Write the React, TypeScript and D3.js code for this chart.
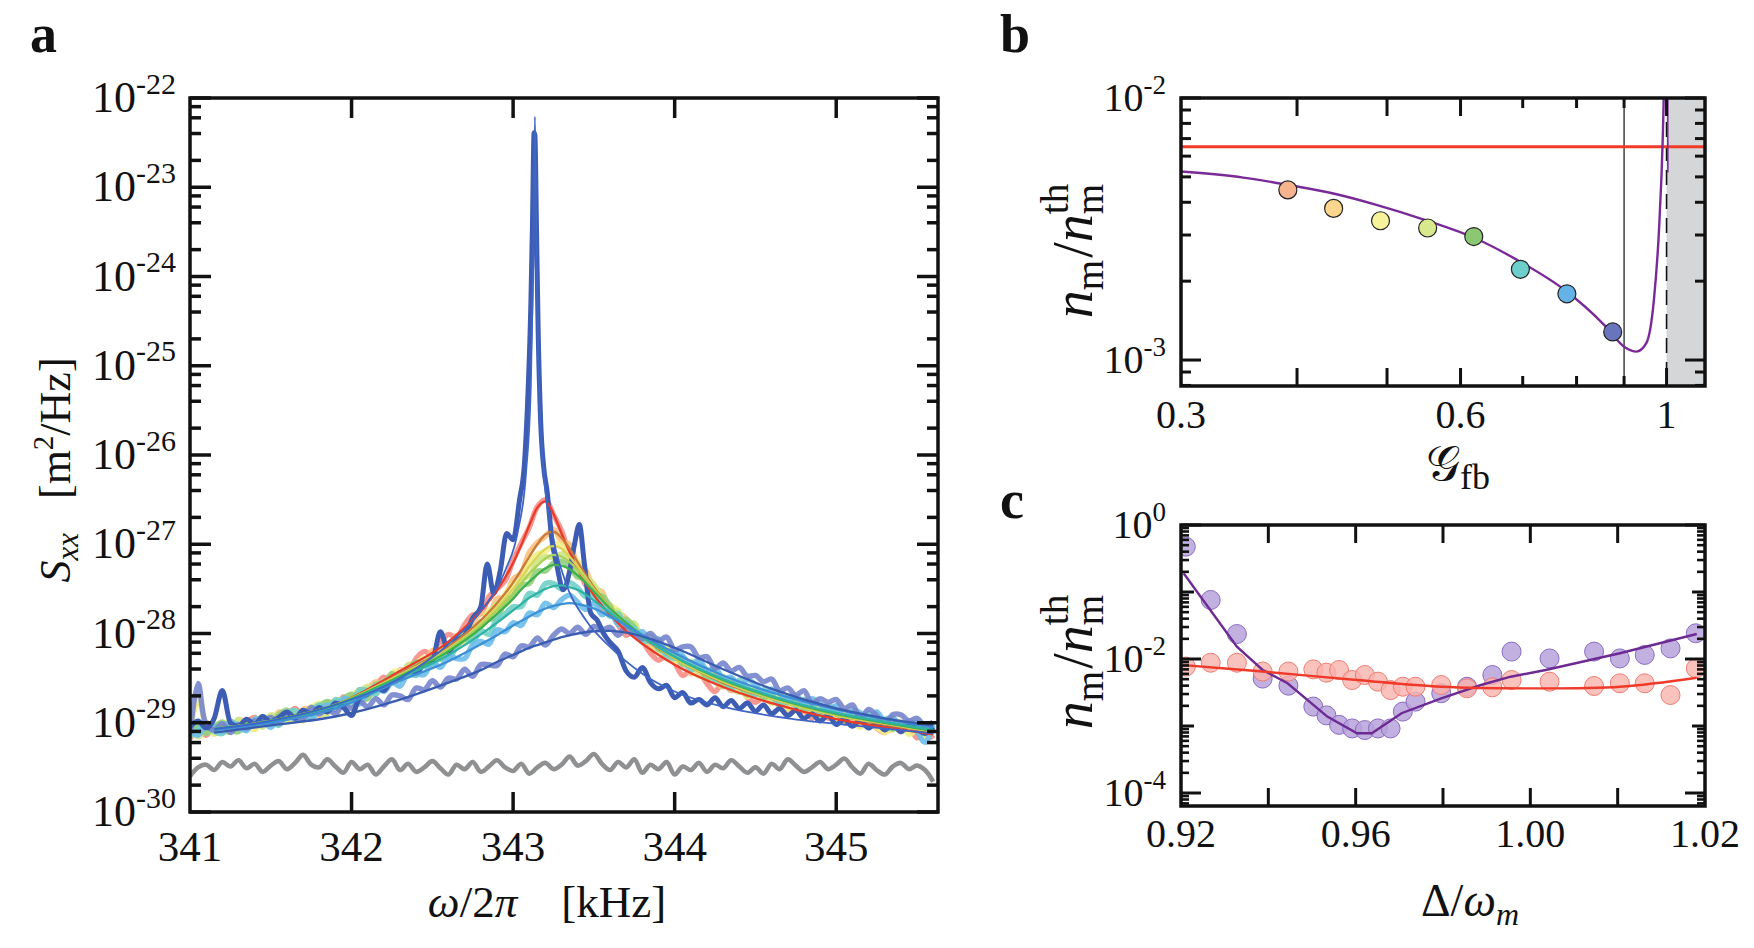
import React, { useEffect, useRef } from "react";
import * as d3 from "d3";

const FONT = "'Liberation Serif', 'Times New Roman', serif";

// ---- panel a: displacement spectra, log10 S_xx [m^2/Hz] on a 0.05 kHz grid from 341.00 kHz
const gridStart = 341.0;
const gridStep = 0.05;

const specSalmon = [
  -29.18, -29.05, -29.14, -29.04, -29.08, -28.99, -29.08, -29.0, -28.94, -29.02,
  -28.93, -29.02, -28.92, -28.84, -28.93, -28.95, -28.81, -28.82, -28.85, -28.71,
  -28.76, -28.63, -28.7, -28.59, -28.49, -28.55, -28.41, -28.43, -28.28, -28.2,
  -28.24, -28.1, -28.01, -28.04, -27.9, -27.79, -27.78, -27.59, -27.5, -27.41,
  -27.18, -26.99, -26.81, -26.58, -26.5, -26.67, -26.85, -27.11, -27.24, -27.46,
  -27.52, -27.73, -27.73, -27.9, -28.02, -27.97, -28.08, -28.22, -28.3, -28.25,
  -28.33, -28.47, -28.41, -28.43, -28.56, -28.65, -28.54, -28.64, -28.59, -28.72,
  -28.77, -28.71, -28.7, -28.81, -28.86, -28.8, -28.85, -28.95, -28.85, -28.95,
  -28.89, -29.0, -29.0, -28.95, -28.93, -29.06, -29.11, -29.02, -29.1, -29.04,
  -29.17, -29.09, -29.18,
];
const specOrange = [
  -29.04, -29.12, -28.99, -29.12, -29.04, -29.09, -28.97, -28.99, -29.07, -28.98,
  -29.02, -28.88, -28.96, -28.98, -28.85, -28.85, -28.92, -28.77, -28.78, -28.8,
  -28.69, -28.76, -28.63, -28.54, -28.62, -28.49, -28.52, -28.35, -28.35, -28.36,
  -28.19, -28.19, -28.2, -28.02, -28.04, -27.89, -27.77, -27.78, -27.61, -27.59,
  -27.39, -27.32, -27.09, -26.98, -26.91, -26.83, -26.97, -27.0, -27.23, -27.29,
  -27.5, -27.53, -27.76, -27.77, -27.83, -28.0, -28.02, -28.17, -28.12, -28.2,
  -28.33, -28.29, -28.45, -28.41, -28.41, -28.54, -28.6, -28.51, -28.6, -28.7,
  -28.63, -28.68, -28.78, -28.68, -28.8, -28.79, -28.88, -28.79, -28.83, -28.92,
  -28.93, -28.86, -28.91, -29.01, -28.93, -29.06, -28.99, -28.97, -29.08, -29.04,
  -29.0, -29.12, -29.07,
];
const specYellow = [
  -29.12, -28.74, -29.03, -29.13, -29.03, -28.98, -29.08, -29.0, -29.08, -28.94,
  -28.95, -29.01, -28.88, -28.94, -28.98, -28.84, -28.78, -28.86, -28.79, -28.83,
  -28.7, -28.64, -28.71, -28.6, -28.61, -28.44, -28.42, -28.48, -28.34, -28.27,
  -28.32, -28.17, -28.14, -28.15, -27.96, -27.94, -27.93, -27.74, -27.74, -27.56,
  -27.45, -27.4, -27.21, -27.11, -27.08, -27.0, -27.01, -27.17, -27.19, -27.36,
  -27.46, -27.66, -27.68, -27.74, -27.91, -27.91, -28.09, -28.07, -28.2, -28.15,
  -28.31, -28.28, -28.36, -28.48, -28.42, -28.52, -28.49, -28.63, -28.58, -28.71,
  -28.65, -28.74, -28.67, -28.78, -28.85, -28.76, -28.84, -28.79, -28.92, -28.85,
  -28.98, -28.9, -28.99, -29.05, -28.94, -29.05, -29.11, -29.06, -29.02, -29.13,
  -29.09, -29.17, -29.07,
];
const specLime = [
  -29.06, -29.16, -29.06, -29.01, -29.09, -29.1, -28.96, -29.04, -28.98, -29.05,
  -28.91, -28.95, -28.99, -28.88, -28.92, -28.82, -28.89, -28.9, -28.75, -28.75,
  -28.8, -28.67, -28.59, -28.66, -28.53, -28.53, -28.52, -28.35, -28.41, -28.29,
  -28.26, -28.28, -28.11, -28.08, -28.11, -27.93, -27.93, -27.79, -27.67, -27.68,
  -27.58, -27.4, -27.35, -27.19, -27.14, -27.15, -27.11, -27.15, -27.33, -27.36,
  -27.45, -27.59, -27.75, -27.75, -27.91, -27.88, -28.08, -28.06, -28.14, -28.28,
  -28.22, -28.34, -28.31, -28.45, -28.51, -28.46, -28.48, -28.61, -28.66, -28.6,
  -28.69, -28.64, -28.78, -28.72, -28.7, -28.84, -28.8, -28.9, -28.82, -28.87,
  -28.86, -28.95, -28.92, -28.9, -29.01, -28.96, -29.03, -29.08, -28.99, -29.08,
  -29.02, -29.13, -29.11,
];
const specGreen = [
  -29.07, -29.03, -29.12, -29.05, -28.99, -29.08, -29.1, -28.98, -29.0, -28.93,
  -29.01, -28.91, -28.86, -28.96, -28.88, -28.94, -28.82, -28.76, -28.82, -28.73,
  -28.68, -28.73, -28.73, -28.57, -28.56, -28.45, -28.52, -28.41, -28.32, -28.36,
  -28.25, -28.29, -28.18, -28.08, -28.03, -28.04, -27.87, -27.84, -27.83, -27.64,
  -27.58, -27.46, -27.44, -27.3, -27.3, -27.21, -27.19, -27.25, -27.37, -27.38,
  -27.57, -27.58, -27.69, -27.86, -27.84, -27.93, -28.07, -28.03, -28.18, -28.19,
  -28.2, -28.35, -28.33, -28.35, -28.51, -28.46, -28.59, -28.52, -28.58, -28.69,
  -28.62, -28.72, -28.69, -28.81, -28.74, -28.73, -28.85, -28.82, -28.91, -28.84,
  -28.89, -28.98, -28.89, -28.93, -29.01, -28.93, -29.0, -29.07, -29.01, -29.01,
  -29.08, -29.03, -29.13,
];
const specTeal = [
  -29.15, -29.07, -29.0, -29.1, -29.12, -29.01, -29.02, -29.09, -28.96, -28.96,
  -28.96, -29.03, -28.9, -28.86, -28.95, -28.87, -28.8, -28.87, -28.74, -28.79,
  -28.78, -28.63, -28.64, -28.68, -28.54, -28.54, -28.44, -28.44, -28.47, -28.34,
  -28.36, -28.23, -28.28, -28.15, -28.06, -28.09, -27.97, -28.01, -27.83, -27.78,
  -27.7, -27.7, -27.55, -27.57, -27.44, -27.44, -27.5, -27.43, -27.49, -27.59,
  -27.58, -27.67, -27.81, -27.78, -27.93, -27.94, -28.1, -28.07, -28.11, -28.25,
  -28.28, -28.26, -28.41, -28.35, -28.41, -28.52, -28.5, -28.62, -28.52, -28.6,
  -28.69, -28.63, -28.69, -28.79, -28.71, -28.81, -28.74, -28.8, -28.91, -28.81,
  -28.86, -28.95, -28.88, -28.96, -28.89, -29.01, -28.96, -28.95, -29.08, -29.01,
  -29.0, -29.09, -29.01,
];
const specSky = [
  -29.08, -29.14, -29.02, -29.04, -29.1, -28.98, -29.06, -29.08, -28.97, -28.98,
  -29.05, -28.95, -28.89, -28.96, -28.88, -28.96, -28.85, -28.8, -28.85, -28.73,
  -28.75, -28.79, -28.66, -28.59, -28.65, -28.55, -28.59, -28.45, -28.45, -28.46,
  -28.32, -28.38, -28.26, -28.28, -28.28, -28.13, -28.09, -28.12, -27.96, -27.98,
  -27.88, -27.91, -27.77, -27.79, -27.66, -27.71, -27.62, -27.57, -27.65, -27.73,
  -27.66, -27.79, -27.74, -27.9, -27.88, -28.01, -27.98, -28.09, -28.06, -28.22,
  -28.18, -28.25, -28.36, -28.29, -28.42, -28.38, -28.51, -28.49, -28.6, -28.52,
  -28.57, -28.68, -28.62, -28.67, -28.78, -28.69, -28.79, -28.73, -28.79, -28.88,
  -28.81, -28.93, -28.86, -28.89, -28.98, -28.88, -28.98, -28.94, -29.06, -28.98,
  -29.1, -29.22, -29.03,
];
const specPeriwinkle = [
  -29.13, -28.56, -29.02, -29.08, -29.01, -29.11, -29.02, -29.06, -28.98, -29.0,
  -28.94, -29.0, -28.89, -28.94, -28.95, -28.83, -28.9, -28.84, -28.9, -28.79,
  -28.84, -28.76, -28.82, -28.73, -28.8, -28.69, -28.7, -28.74, -28.61, -28.63,
  -28.53, -28.6, -28.5, -28.51, -28.4, -28.48, -28.35, -28.35, -28.36, -28.23,
  -28.26, -28.14, -28.15, -28.05, -28.13, -28.02, -27.95, -28.0, -27.93, -28.01,
  -27.92, -27.96, -27.93, -28.02, -27.92, -27.99, -28.06, -28.0, -28.08, -28.04,
  -28.18, -28.15, -28.15, -28.27, -28.26, -28.39, -28.33, -28.42, -28.38, -28.48,
  -28.47, -28.54, -28.51, -28.64, -28.61, -28.69, -28.64, -28.78, -28.73, -28.77,
  -28.74, -28.84, -28.8, -28.95, -28.85, -28.92, -29.03, -28.91, -28.91, -28.98,
  -28.95, -29.04, -28.99,
];
const specFloor = [
  -29.6, -29.5, -29.47, -29.53, -29.44, -29.49, -29.42, -29.51, -29.46, -29.55,
  -29.48, -29.43, -29.52, -29.45, -29.36, -29.47, -29.5, -29.41, -29.49, -29.56,
  -29.44, -29.52, -29.47, -29.58, -29.49, -29.41, -29.53, -29.46, -29.55, -29.5,
  -29.43, -29.51, -29.58, -29.47, -29.52, -29.44, -29.55, -29.49, -29.42, -29.5,
  -29.54, -29.46, -29.57, -29.5, -29.45, -29.52, -29.47, -29.38, -29.48, -29.43,
  -29.35, -29.46, -29.53, -29.44, -29.5, -29.41, -29.56, -29.47, -29.52, -29.44,
  -29.58, -29.49, -29.53, -29.45, -29.55, -29.47, -29.51, -29.42, -29.49, -29.56,
  -29.5, -29.57, -29.46, -29.52, -29.41, -29.48, -29.55, -29.5, -29.44, -29.52,
  -29.47, -29.4, -29.5, -29.57, -29.46, -29.53, -29.58, -29.49, -29.45, -29.52,
  -29.48, -29.53, -29.66,
];

// spectrum closest to the instability, on its own frequency points (kHz)
const narrowFreq = [
  341.0, 341.05, 341.1, 341.15, 341.2, 341.25, 341.3, 341.35, 341.4, 341.45,
  341.5, 341.55, 341.6, 341.65, 341.7, 341.75, 341.8, 341.85, 341.9, 341.95,
  342.0, 342.05, 342.1, 342.15, 342.2, 342.25, 342.3, 342.35, 342.4, 342.45,
  342.5, 342.55, 342.6, 342.65, 342.7, 342.75, 342.8, 342.84, 342.88, 342.92,
  342.96, 343.0, 343.04, 343.07, 343.09, 343.11, 343.12, 343.13, 343.135, 343.145,
  343.155, 343.17, 343.19, 343.21, 343.24, 343.27, 343.31, 343.35, 343.38, 343.41,
  343.44, 343.48, 343.52, 343.56, 343.6, 343.65, 343.7, 343.75, 343.8, 343.85,
  343.9, 343.95, 344.0, 344.05, 344.1, 344.15, 344.2, 344.25, 344.3, 344.35,
  344.4, 344.45, 344.5, 344.55, 344.6, 344.65, 344.7, 344.75, 344.8, 344.85,
  344.9, 344.95, 345.0, 345.05, 345.1, 345.15, 345.2, 345.25, 345.3, 345.35,
  345.4, 345.45, 345.5, 345.55, 345.6,
];
const narrowSpec = [
  -29.05, -28.98, -29.06, -28.95, -28.64, -29.0, -29.04, -28.96, -29.02, -28.93,
  -28.99, -28.94, -28.88, -28.95, -28.86, -28.9, -28.83, -28.88, -28.78, -28.83,
  -28.92, -28.72, -28.68, -28.6, -28.64, -28.52, -28.5, -28.42, -28.44, -28.33,
  -28.3, -27.98, -28.2, -28.08, -28.02, -27.83, -27.7, -27.22, -27.55, -27.3,
  -26.88, -26.95, -26.5, -26.1, -25.4, -24.3, -23.4, -22.39, -22.42, -23.5,
  -24.6, -25.6, -26.15, -26.4, -26.95, -27.23, -27.51, -27.3, -27.0, -26.78,
  -27.2, -27.77, -27.85, -28.0, -28.1, -28.2, -28.42, -28.49, -28.38, -28.55,
  -28.62, -28.58, -28.72, -28.66, -28.78, -28.74, -28.8, -28.72, -28.82, -28.75,
  -28.84, -28.78, -28.87, -28.8, -28.9, -28.84, -28.92, -28.86, -28.95, -28.9,
  -28.98, -28.92, -29.02, -28.96, -29.04, -28.97, -29.06, -29.0, -29.08, -29.02,
  -29.1, -29.03, -29.07, -29.12, -29.05,
];

// fitted curves, log10 S_xx at fitFreq
const fitFreq = [
  341.15, 341.5, 341.9, 342.3, 342.6, 342.8, 342.9, 343.0, 343.05, 343.1, 343.15, 343.2, 343.25,
  343.3, 343.35, 343.4, 343.5, 343.6, 343.7, 343.85, 344.0, 344.3, 344.6, 345.0, 345.3, 345.6,
];
const fitRed = [
  -29.07, -28.98, -28.8, -28.42, -28.09, -27.75, -27.52, -27.21, -27.01, -26.79, -26.59, -26.52, -26.66,
  -26.88, -27.09, -27.28, -27.57, -27.79, -27.97, -28.18, -28.35, -28.6, -28.78, -28.96, -29.05, -29.13,
];
const fitBrown = [
  -29.07, -28.98, -28.8, -28.45, -28.15, -27.85, -27.66, -27.43, -27.29, -27.14, -27.0, -26.89, -26.86,
  -26.93, -27.05, -27.2, -27.48, -27.71, -27.89, -28.11, -28.28, -28.55, -28.73, -28.92, -29.02, -29.1,
];
const fitOlive = [
  -29.07, -28.98, -28.8, -28.46, -28.17, -27.89, -27.71, -27.5, -27.38, -27.25, -27.14, -27.05, -27.02,
  -27.05, -27.14, -27.25, -27.5, -27.71, -27.89, -28.1, -28.28, -28.54, -28.73, -28.92, -29.01, -29.1,
];
const fitLime = [
  -29.07, -28.98, -28.8, -28.47, -28.18, -27.91, -27.74, -27.55, -27.44, -27.33, -27.24, -27.16, -27.12,
  -27.14, -27.2, -27.29, -27.51, -27.71, -27.88, -28.1, -28.27, -28.53, -28.72, -28.91, -29.0, -29.09,
];
const fitGreen = [
  -29.07, -28.98, -28.8, -28.48, -28.2, -27.94, -27.78, -27.61, -27.51, -27.42, -27.34, -27.27, -27.23,
  -27.24, -27.28, -27.35, -27.53, -27.72, -27.88, -28.09, -28.26, -28.52, -28.71, -28.9, -29.0, -29.09,
];
const fitTeal = [
  -29.07, -28.98, -28.81, -28.5, -28.24, -28.01, -27.88, -27.74, -27.67, -27.6, -27.55, -27.5, -27.47,
  -27.46, -27.48, -27.51, -27.63, -27.77, -27.91, -28.1, -28.26, -28.51, -28.7, -28.89, -28.99, -29.08,
];
const fitBlue = [
  -29.08, -29.0, -28.84, -28.53, -28.31, -28.12, -28.02, -27.91, -27.86, -27.81, -27.76, -27.72, -27.69,
  -27.67, -27.66, -27.67, -27.72, -27.81, -27.91, -28.07, -28.22, -28.47, -28.66, -28.85, -28.96, -29.05,
];
const fitNavy = [
  -29.11, -29.03, -28.93, -28.74, -28.55, -28.41, -28.32, -28.24, -28.2, -28.16, -28.13, -28.1, -28.07,
  -28.04, -28.02, -28.0, -27.975, -27.97, -27.99, -28.06, -28.16, -28.4, -28.62, -28.84, -28.95, -29.03,
];
const narrowFitFreq = [
  341.15, 341.5, 341.9, 342.3, 342.6, 342.8, 342.95, 343.03, 343.08, 343.11, 343.125, 343.135, 343.145,
  343.16, 343.19, 343.24, 343.32, 343.45, 343.6, 343.8, 344.0, 344.3, 344.7, 345.1, 345.6,
];
const narrowFit = [
  -29.07, -28.98, -28.8, -28.5, -28.12, -27.75, -27.3, -26.85, -26.2, -25.2, -23.8, -22.21, -23.8,
  -25.2, -26.2, -26.85, -27.4, -27.85, -28.15, -28.45, -28.65, -28.82, -28.95, -29.03, -29.12,
];

// ---- panel b: occupation ratio vs feedback gain
const gainPoints = [0.391, 0.438, 0.492, 0.553, 0.62, 0.696, 0.781, 0.875];
const ratioPoints = [4.46e-3, 3.79e-3, 3.4e-3, 3.19e-3, 2.96e-3, 2.22e-3, 1.79e-3, 1.28e-3];
const gainCurveG = [
  0.3, 0.35, 0.391, 0.44, 0.487, 0.55, 0.623, 0.696, 0.777, 0.857, 0.9, 0.928, 0.951, 0.969, 0.981,
  0.991, 0.996,
];
const gainCurveN = [
  5.24e-3, 4.97e-3, 4.66e-3, 4.3e-3, 3.91e-3, 3.42e-3, 2.91e-3, 2.37e-3, 1.85e-3, 1.36e-3, 1.125e-3,
  1.077e-3, 1.16e-3, 1.69e-3, 3.05e-3, 7.35e-3, 1.6e-2,
];
const gainBranchG = [1.0028, 1.0032];
const gainBranchN = [1.3e-2, 5.2e-3];
const sidebandLimit = 6.52e-3;
const gainMarker = 0.9;

// ---- panel c: occupation ratio vs detuning
const detuning = [
  0.9211, 0.9268, 0.9328, 0.9387, 0.9446, 0.9503, 0.9533, 0.9562, 0.9592, 0.9621, 0.9651, 0.968,
  0.9708, 0.9737, 0.9796, 0.9855, 0.9913, 0.9957, 1.0044, 1.0146, 1.0205, 1.0262, 1.0321, 1.0379,
];
const ratioFeedback = [
  0.474, 0.076, 0.0236, 5.1e-3, 4.0e-3, 1.95e-3, 1.44e-3, 1.04e-3, 9.2e-4, 8.7e-4, 9.2e-4, 9.2e-4,
  1.64e-3, 2.31e-3, 3.08e-3, 3.86e-3, 5.77e-3, 0.0129, 0.0102, 0.0129, 0.0102, 0.0115, 0.0144, 0.0242,
];
const ratioSideband = [
  7.7e-3, 8.8e-3, 8.8e-3, 6.5e-3, 6.5e-3, 7.0e-3, 6.25e-3, 6.85e-3, 4.86e-3, 5.77e-3, 4.59e-3, 3.44e-3,
  3.86e-3, 3.86e-3, 4.09e-3, 3.65e-3, 3.78e-3, 4.86e-3, 4.59e-3, 3.95e-3, 4.34e-3, 4.34e-3, 2.9e-3, 7.26e-3,
];
const theoryFeedbackX = [
  0.9206, 0.9328, 0.9387, 0.9444, 0.9535, 0.9603, 0.9637, 0.9705, 0.9796, 0.9887, 0.9955, 1.0035, 1.0205, 1.0381,
];
const theoryFeedbackY = [
  0.19, 0.0153, 6.85e-3, 4.34e-3, 1.38e-3, 7.8e-4, 7.8e-4, 1.55e-3, 2.59e-3, 4.09e-3, 5.44e-3, 6.85e-3, 0.0122, 0.0236,
];
const theorySidebandX = [0.9206, 0.9387, 0.9603, 0.9796, 0.9989, 1.0205, 1.0381];
const theorySidebandY = [8.1e-3, 6.5e-3, 4.86e-3, 3.86e-3, 3.65e-3, 3.86e-3, 5.26e-3];
const detuningTicks = [0.92, 0.96, 1.0, 1.04];
const detuningTickLabels = ["0.92", "0.96", "1.00", "1.02"];

function logTicks(lo: number, hi: number, mults: number[]) {
  const out: number[] = [];
  for (let e = Math.floor(Math.log10(lo)) - 1; e <= Math.ceil(Math.log10(hi)); e++)
    for (const m of mults) {
      const v = m * Math.pow(10, e);
      if (v >= lo * 0.9999 && v <= hi * 1.0001) out.push(v);
    }
  return out;
}

// inward tick marks on one side of a frame
function ticks(g: any, side: string, pos: number[], edge: number, len: number, sw = 3) {
  g.append("g")
    .selectAll("line")
    .data(pos)
    .enter()
    .append("line")
    .attr("x1", (p: number) => (side === "left" || side === "right" ? edge : p))
    .attr("x2", (p: number) => (side === "left" ? edge + len : side === "right" ? edge - len : p))
    .attr("y1", (p: number) => (side === "top" || side === "bottom" ? edge : p))
    .attr("y2", (p: number) => (side === "top" ? edge + len : side === "bottom" ? edge - len : p))
    .attr("stroke", "#111")
    .attr("stroke-width", sw);
}

function powLabel(g: any, x: number, y: number, exp: string, size: number, sup: number) {
  const t = g
    .append("text")
    .attr("x", x)
    .attr("y", y + size * 0.32)
    .attr("text-anchor", "end")
    .attr("font-family", FONT)
    .attr("font-size", size)
    .attr("fill", "#111");
  t.append("tspan").text("10");
  t.append("tspan").attr("font-size", sup).attr("dy", -size * 0.42).text(exp);
}

// n_m / n_m^th, rotated
function ratioTitle(svg: any, x: number, y: number, size: number) {
  const t = svg
    .append("text")
    .attr("transform", `translate(${x},${y}) rotate(-90)`)
    .attr("text-anchor", "middle")
    .attr("font-family", FONT)
    .attr("font-size", size)
    .attr("fill", "#111");
  const sub = size * 0.7;
  t.append("tspan").attr("font-style", "italic").text("n");
  t.append("tspan").attr("font-size", sub).attr("dy", size * 0.2).text("m");
  t.append("tspan").attr("dy", -size * 0.2).attr("dx", 2).text("/");
  t.append("tspan").attr("font-style", "italic").text("n");
  const m = t.append("tspan").attr("font-size", sub).attr("dy", size * 0.2).text("m");
  const mw = (m.node() as SVGTextContentElement).getComputedTextLength();
  t.append("tspan")
    .attr("font-size", sub)
    .attr("dx", -mw)
    .attr("dy", -size * 0.62)
    .text("th");
}

export default function App() {
  const ref = useRef<SVGSVGElement>(null);

  useEffect(() => {
    const svg = d3.select(ref.current);
    svg.selectAll("*").remove();
    svg.append("rect").attr("width", 1754).attr("height", 948).attr("fill", "#fff");

    // ================= panel a =================
    const xA = d3.scaleLinear().domain([341, 345.63]).range([190, 938]);
    const yA = d3.scaleLog().domain([1e-30, 1e-22]).range([812, 98]);
    svg.append("clipPath").attr("id", "clipA").append("rect")
      .attr("x", 190).attr("y", 98).attr("width", 748).attr("height", 714);

    const gA = svg.append("g").attr("clip-path", "url(#clipA)");
    const lineA = d3.line<[number, number]>()
      .x((d) => xA(d[0]))
      .y((d) => yA(Math.pow(10, d[1])))
      .curve(d3.curveCatmullRom.alpha(0.5));
    const smoothA = d3.line<[number, number]>()
      .x((d) => xA(d[0]))
      .y((d) => yA(Math.pow(10, d[1])))
      .curve(d3.curveMonotoneX);
    const onGrid = (vals: number[]) => vals.map((v, i) => [gridStart + i * gridStep, v] as [number, number]);

    gA.append("path").attr("d", lineA(onGrid(specFloor))).attr("fill", "none")
      .attr("stroke", "#8f9092").attr("stroke-width", 4.6).attr("stroke-linejoin", "round");

    const dataColors = ["#f68d86", "#fbc381", "#f2ee86", "#cfe583", "#90cf7c", "#70d0c6", "#6cbcea", "#7584cc"];
    [specSalmon, specOrange, specYellow, specLime, specGreen, specTeal, specSky, specPeriwinkle].forEach((s, i) => {
      gA.append("path").attr("d", lineA(onGrid(s))).attr("fill", "none")
        .attr("stroke", dataColors[i]).attr("stroke-width", 5.4).attr("stroke-opacity", 0.9)
        .attr("stroke-linejoin", "round");
    });
    gA.append("path")
      .attr("d", smoothA(narrowFreq.map((f, i) => [f, narrowSpec[i]] as [number, number])))
      .attr("fill", "none").attr("stroke", "#3d5cb3").attr("stroke-width", 5).attr("stroke-linejoin", "round");

    const fitColors = ["#ea3a2c", "#c97b38", "#d9d45c", "#a9d058", "#3fb04c", "#30b3a6", "#3d8fd6", "#3a5cb0"];
    [fitRed, fitBrown, fitOlive, fitLime, fitGreen, fitTeal, fitBlue, fitNavy].forEach((s, i) => {
      gA.append("path").attr("d", smoothA(fitFreq.map((f, j) => [f, s[j]] as [number, number])))
        .attr("fill", "none").attr("stroke", fitColors[i]).attr("stroke-width", 2.3);
    });
    gA.append("path")
      .attr("d", smoothA(narrowFitFreq.map((f, i) => [f, narrowFit[i]] as [number, number])))
      .attr("fill", "none").attr("stroke", "#3f66c4").attr("stroke-width", 1.8);

    const decadesA = d3.range(-30, -21).map((e) => Math.pow(10, e));
    const minorA = logTicks(1e-30, 1e-22, [2, 4, 6, 8]);
    ticks(svg, "left", decadesA.map((v) => yA(v)), 190, 21, 3.5);
    ticks(svg, "right", decadesA.map((v) => yA(v)), 938, 21, 3.5);
    ticks(svg, "left", minorA.map((v) => yA(v)), 190, 11, 3.5);
    ticks(svg, "right", minorA.map((v) => yA(v)), 938, 11, 3.5);
    const kHz = [342, 343, 344, 345];
    ticks(svg, "top", kHz.map((v) => xA(v)), 98, 20, 3.5);
    ticks(svg, "bottom", kHz.map((v) => xA(v)), 812, 20, 3.5);
    svg.append("rect").attr("x", 190).attr("y", 98).attr("width", 748).attr("height", 714)
      .attr("fill", "none").attr("stroke", "#111").attr("stroke-width", 3.5);

    d3.range(-30, -21).forEach((e) => powLabel(svg, 176, yA(Math.pow(10, e)), String(e), 44, 30));
    [341, 342, 343, 344, 345].forEach((v) => {
      svg.append("text").attr("x", xA(v)).attr("y", 861).attr("text-anchor", "middle")
        .attr("font-family", FONT).attr("font-size", 43).attr("fill", "#111").text(String(v));
    });

    const xt = svg.append("text").attr("x", 547).attr("y", 917).attr("text-anchor", "middle")
      .attr("font-family", FONT).attr("font-size", 45).attr("fill", "#111");
    xt.append("tspan").attr("font-style", "italic").text("ω");
    xt.append("tspan").text("/2");
    xt.append("tspan").attr("font-style", "italic").text("π");
    xt.append("tspan").attr("dx", 44).text("[kHz]");

    const yt = svg.append("text").attr("transform", "translate(70,470) rotate(-90)")
      .attr("text-anchor", "middle").attr("font-family", FONT).attr("font-size", 44).attr("fill", "#111");
    yt.append("tspan").attr("font-style", "italic").text("S");
    yt.append("tspan").attr("font-style", "italic").attr("font-size", 31).attr("dy", 8).text("xx");
    yt.append("tspan").attr("dx", 34).attr("dy", -8).text("[m");
    yt.append("tspan").attr("font-size", 29).attr("dy", -17).text("2");
    yt.append("tspan").attr("dy", 17).text("/Hz]");

    // ================= panel b =================
    const xB = d3.scaleLog().domain([0.3, 1.1]).range([1181, 1705]);
    const yB = d3.scaleLog().domain([7.96e-4, 1e-2]).range([386, 98]);
    svg.append("clipPath").attr("id", "clipB").append("rect")
      .attr("x", 1181).attr("y", 98).attr("width", 524).attr("height", 288);
    const gB = svg.append("g").attr("clip-path", "url(#clipB)");
    gB.append("rect").attr("x", xB(1)).attr("y", 98).attr("width", xB(1.1) - xB(1)).attr("height", 288)
      .attr("fill", "#d5d6d8");
    gB.append("line").attr("x1", xB(1)).attr("x2", xB(1)).attr("y1", 98).attr("y2", 386)
      .attr("stroke", "#111").attr("stroke-width", 1.6).attr("stroke-dasharray", "15,9");
    gB.append("line").attr("x1", xB(gainMarker)).attr("x2", xB(gainMarker)).attr("y1", 98).attr("y2", 386)
      .attr("stroke", "#111").attr("stroke-width", 1.2);
    gB.append("line").attr("x1", 1181).attr("x2", 1705).attr("y1", yB(sidebandLimit)).attr("y2", yB(sidebandLimit))
      .attr("stroke", "#f03b27").attr("stroke-width", 3);
    const lineB = d3.line<[number, number]>().x((d) => xB(d[0])).y((d) => yB(d[1])).curve(d3.curveMonotoneX);
    gB.append("path").attr("d", lineB(gainCurveG.map((g, i) => [g, gainCurveN[i]] as [number, number])))
      .attr("fill", "none").attr("stroke", "#7a2a98").attr("stroke-width", 2.4);
    gB.append("path").attr("d", lineB(gainBranchG.map((g, i) => [g, gainBranchN[i]] as [number, number])))
      .attr("fill", "none").attr("stroke", "#7a2a98").attr("stroke-width", 1.6);
    const dotColors = ["#f7b38d", "#fcd68c", "#f7f39a", "#d8e88d", "#8cc873", "#6ccfcb", "#64b2e7", "#6875bc"];
    gB.selectAll("circle.g").data(gainPoints).enter().append("circle")
      .attr("cx", (d) => xB(d)).attr("cy", (d, i) => yB(ratioPoints[i])).attr("r", 9)
      .attr("fill", (d, i) => dotColors[i]).attr("stroke", "#222").attr("stroke-width", 1.2);

    const decB = [1e-3, 1e-2];
    const minorB = logTicks(7.96e-4, 1e-2, [2, 3, 4, 5, 6, 7, 8, 9]);
    ticks(svg, "left", decB.map((v) => yB(v)), 1181, 20, 3);
    ticks(svg, "right", decB.map((v) => yB(v)), 1705, 20, 3);
    ticks(svg, "left", minorB.map((v) => yB(v)), 1181, 10, 3);
    ticks(svg, "right", minorB.map((v) => yB(v)), 1705, 10, 3);
    const longB = [0.4, 0.5, 0.6, 1.0];
    const shortB = [0.7, 0.8, 0.9];
    ticks(svg, "top", longB.map((v) => xB(v)), 98, 18, 3);
    ticks(svg, "bottom", longB.map((v) => xB(v)), 386, 18, 3);
    ticks(svg, "top", shortB.map((v) => xB(v)), 98, 10, 3);
    ticks(svg, "bottom", shortB.map((v) => xB(v)), 386, 10, 3);
    svg.append("rect").attr("x", 1181).attr("y", 98).attr("width", 524).attr("height", 288)
      .attr("fill", "none").attr("stroke", "#111").attr("stroke-width", 3.5);
    powLabel(svg, 1166, yB(1e-2), "-2", 40, 27);
    powLabel(svg, 1166, yB(1e-3), "-3", 40, 27);
    [
      [0.3, "0.3"],
      [0.6, "0.6"],
      [1, "1"],
    ].forEach(([v, s]) => {
      svg.append("text").attr("x", xB(v as number)).attr("y", 428).attr("text-anchor", "middle")
        .attr("font-family", FONT).attr("font-size", 40).attr("fill", "#111").text(s as string);
    });
    ratioTitle(svg, 1092, 251, 56);
    const gt = svg.append("text").attr("x", 1458).attr("y", 480).attr("text-anchor", "middle")
      .attr("font-family", FONT).attr("font-size", 48).attr("fill", "#111");
    gt.append("tspan").attr("font-family", "'DejaVu Serif', 'DejaVu Sans', serif").text("\u{1D4A2}");
    gt.append("tspan").attr("font-size", 36).attr("dy", 9).text("fb");

    // ================= panel c =================
    const xC = d3.scaleLinear().domain([0.92, 1.04]).range([1181, 1705]);
    const yC = d3.scaleLog().domain([Math.pow(10, -4.194), 1]).range([806, 525]);
    svg.append("clipPath").attr("id", "clipC").append("rect")
      .attr("x", 1181).attr("y", 525).attr("width", 524).attr("height", 281);
    const gC = svg.append("g").attr("clip-path", "url(#clipC)");
    gC.selectAll("circle.p").data(detuning).enter().append("circle")
      .attr("cx", (d) => xC(d)).attr("cy", (d, i) => yC(ratioFeedback[i])).attr("r", 9.5)
      .attr("fill", "#b7a2da").attr("fill-opacity", 0.85).attr("stroke", "#8a6cc2").attr("stroke-width", 1);
    gC.selectAll("circle.r").data(detuning).enter().append("circle")
      .attr("cx", (d) => xC(d)).attr("cy", (d, i) => yC(ratioSideband[i])).attr("r", 9.5)
      .attr("fill", "#f9b3ac").attr("fill-opacity", 0.8).attr("stroke", "#f07d72").attr("stroke-width", 1);
    const linC = d3.line<[number, number]>().x((d) => xC(d[0])).y((d) => yC(d[1]));
    gC.append("path").attr("d", linC(theoryFeedbackX.map((v, i) => [v, theoryFeedbackY[i]] as [number, number])))
      .attr("fill", "none").attr("stroke", "#6d2a92").attr("stroke-width", 2.4);
    gC.append("path")
      .attr("d", linC.curve(d3.curveCatmullRom)(theorySidebandX.map((v, i) => [v, theorySidebandY[i]] as [number, number])))
      .attr("fill", "none").attr("stroke", "#ef3a29").attr("stroke-width", 2.4);

    const minorC = logTicks(Math.pow(10, -4.194), 1, [2, 3, 4, 5, 6, 7, 8, 9]);
    [1, 1e-2, 1e-4].forEach((v) => {
      ticks(svg, "left", [yC(v)], 1181, 20, 3);
      ticks(svg, "right", [yC(v)], 1705, 20, 3);
    });
    ticks(svg, "left", [yC(1e-1), yC(1e-3)], 1181, 13, 3);
    ticks(svg, "right", [yC(1e-1), yC(1e-3)], 1705, 13, 3);
    ticks(svg, "left", minorC.map((v) => yC(v)), 1181, 8, 2.6);
    ticks(svg, "right", minorC.map((v) => yC(v)), 1705, 8, 2.6);
    const xtC = [0.94, 0.96, 0.98, 1.0, 1.02];
    ticks(svg, "top", xtC.map((v) => xC(v)), 525, 18, 3);
    ticks(svg, "bottom", xtC.map((v) => xC(v)), 806, 18, 3);
    svg.append("rect").attr("x", 1181).attr("y", 525).attr("width", 524).attr("height", 281)
      .attr("fill", "none").attr("stroke", "#111").attr("stroke-width", 3.5);
    powLabel(svg, 1166, yC(1), "0", 40, 27);
    powLabel(svg, 1166, yC(1e-2), "-2", 40, 27);
    powLabel(svg, 1166, yC(1e-4), "-4", 40, 27);
    detuningTicks.forEach((v, i) => {
      svg.append("text").attr("x", xC(v)).attr("y", 847).attr("text-anchor", "middle")
        .attr("font-family", FONT).attr("font-size", 40).attr("fill", "#111").text(detuningTickLabels[i]);
    });
    ratioTitle(svg, 1092, 662, 56);
    const dt = svg.append("text").attr("x", 1470).attr("y", 916).attr("text-anchor", "middle")
      .attr("font-family", FONT).attr("font-size", 46).attr("fill", "#111");
    dt.append("tspan").text("Δ/");
    dt.append("tspan").attr("font-style", "italic").text("ω");
    dt.append("tspan").attr("font-style", "italic").attr("font-size", 32).attr("dy", 9).text("m");

    // panel letters
    [
      ["a", 30, 52],
      ["b", 1000, 52],
      ["c", 1000, 518],
    ].forEach(([s, x, y]) => {
      svg.append("text").attr("x", x as number).attr("y", y as number).attr("font-family", FONT)
        .attr("font-weight", "bold").attr("font-size", 54).attr("fill", "#111").text(s as string);
    });
  }, []);

  return (
    <svg ref={ref} width={1754} height={948} style={{ position: "absolute", left: 0, top: 0 }} />
  );
}
